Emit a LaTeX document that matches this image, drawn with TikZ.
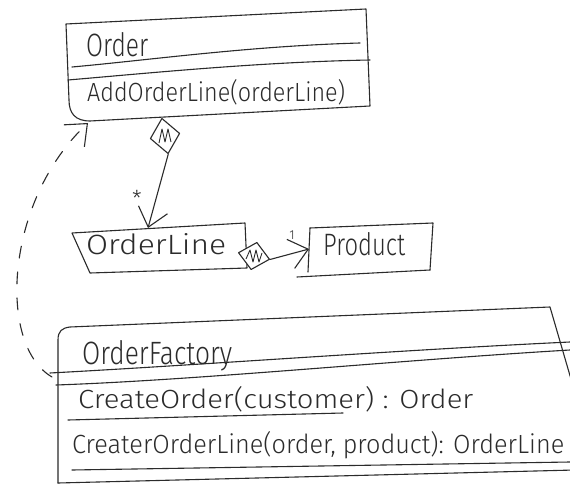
\documentclass[tikz,border=0pt]{standalone}
\usepackage{fontspec}
\setmainfont{Fira Sans Light}
\usepackage{graphicx}
\usetikzlibrary{arrows.meta,shapes.geometric}
\definecolor{inkc}{HTML}{2B2B2B}
% hand lettering squeezed into a given width and height above the baseline
\newcommand{\hw}[3]{\resizebox{#1}{#2}{#3}}

\begin{document}
\begin{tikzpicture}[x=1pt,y=-1pt,
  ink/.style={draw=inkc,line width=1.1pt,line cap=round,line join=round},
  txt/.style={text=inkc,inner sep=0pt,anchor=base west},
  barb/.style={-{Straight Barb[length=18pt,width=30pt]}},
  compo/.style={ink,shape=diamond,inner sep=0pt,fill=white}]
\useasboundingbox (0,0) rectangle (570,486);
\fill[white] (0,0) rectangle (570,486);
\clip (0,0) rectangle (570,486);

% ---------------- Order ----------------
\coordinate (oTL) at (66,24);
\coordinate (oTR) at (366,9);
\coordinate (oBR) at (370,106);
\coordinate (oBL) at (90,121);
\draw[ink] (oTL) -- (oTR) -- (oBR) -- (oBL)
  .. controls (75,121) and (69,113) .. (69,100) -- cycle;
\draw[ink] (72,67) .. controls (150,60) and (250,46) .. (360,43);
\draw[ink] (68,80) .. controls (150,73) and (260,62) .. (370,60);
\node[txt] (tOrder) at (86,57) {\hw{62pt}{24pt}{Order}};
\node[txt] (tAdd) at (87,102) {\hw{258pt}{22pt}{AddOrderLine(orderLine)}};

% ---------------- OrderLine ----------------
\draw[ink] (72,233) -- (245,223) -- (247,268) -- (90,273) -- cycle;
\node[txt] (tLine) at (86,255) {\hw{140pt}{21pt}{OrderLine}};
\coordinate (olTop) at (148,228);
\coordinate (olRight) at (246,252);

% ---------------- Product ----------------
\draw[ink] (310,228) -- (433,223) -- (430,270);
\draw[ink] (310,228) -- (308,272);
\draw[ink] (297,277) -- (430,270);
\node[txt] (tProd) at (323,255) {\hw{82pt}{23pt}{Product}};
\coordinate (prLeft) at (309,249);

% ---------------- OrderFactory ----------------
\draw[ink] (58,483) -- (58,340) .. controls (58,331) and (62,328) .. (70,327)
  -- (550,307) -- (580,410);
\draw[ink] (58,483) -- (575,470);
\draw[ink] (50,373) .. controls (200,365) and (400,350) .. (570,342);
\draw[ink] (56,385) .. controls (200,380) and (400,360) .. (570,350);
\node[txt] (tFac) at (82,364) {\hw{150pt}{24pt}{OrderFactory}};
\node[txt] (tCreate) at (78,408) {\hw{395pt}{22pt}{CreateOrder(customer) : Order}};
\draw[ink] (68,420) -- (343,413);
\node[txt] (tCreateLine) at (72,453) {\hw{492pt}{22pt}{CreaterOrderLine(order, product): OrderLine}};
\draw[ink] (72,470) -- (570,462);
\coordinate (fLeft) at (52,377);
\coordinate (oCorner) at (88,123);

% ---------------- connectors ----------------
\node[compo,minimum width=30pt,minimum height=36pt,rotate=10] (d1) at (165,136) {};
\draw[inkc,line width=0.9pt,line join=round,shift={(d1.center)}]
  (-6,7) -- (-3,-7) -- (0,6) -- (3,-7) -- (6,6);
\node[compo,minimum width=32pt,minimum height=28pt,rotate=-12] (d2) at (254,256) {};
\draw[inkc,line width=0.9pt,line join=round,shift={(d2.center)}]
  (-8,3) -- (-4,-6) -- (-1,6) -- (2,-6) -- (5,6) -- (8,-3);

\draw[ink,barb] (d1.south) -- (olTop);
\node[text=inkc,inner sep=0pt] (star) at (137,198) {\fontsize{22}{22}\selectfont *};

\draw[ink,barb] (d2.east) -- (prLeft);
\node[text=inkc,inner sep=0pt] (one) at (292,235) {\fontsize{13}{13}\selectfont 1};

\draw[ink,dash pattern=on 12pt off 14pt,barb]
  (fLeft) .. controls (-3,345) and (5,200) .. (oCorner);
\end{tikzpicture}
\end{document}
